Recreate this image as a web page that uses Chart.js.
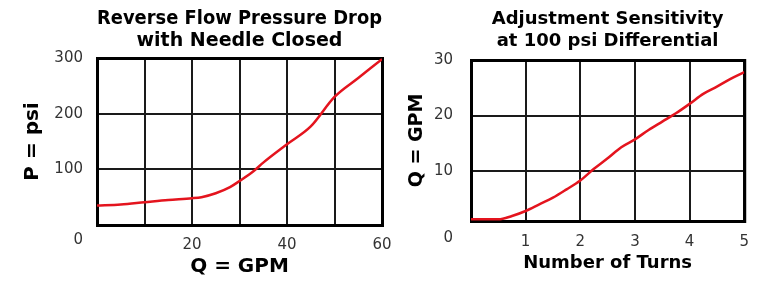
<!DOCTYPE html>
<html><head><meta charset="utf-8">
<script src="https://cdn.jsdelivr.net/npm/chart.js@4.4.0/dist/chart.umd.min.js"></script>
<style>
html,body{margin:0;padding:0;background:#fff;width:761px;height:287px;overflow:hidden;}
canvas{position:absolute;top:0;}
#c1{left:0;} #c2{left:400px;}
</style></head><body>
<canvas id="c1" width="420" height="287"></canvas>
<canvas id="c2" width="361" height="287"></canvas>
<script>
// ---- data ----
const pressureFlowGpm = [0, 5, 10, 15, 20, 22, 25, 28, 30, 33, 35, 40, 45, 50, 55, 60];
const pressurePsi     = [35, 37, 41, 45, 48, 50, 57, 68, 79, 97, 112, 145, 177, 230, 264, 298];
const turnsCount      = [0, 0.25, 0.5, 0.75, 1, 1.25, 1.5, 1.75, 2, 2.25, 2.5, 2.75, 3, 3.25, 3.5, 3.75, 4, 4.25, 4.5, 4.75, 5];
const sensitivityGpm  = [1.3, 1.3, 1.3, 1.9, 2.8, 4.0, 5.2, 6.7, 8.3, 10.4, 12.3, 14.3, 15.7, 17.4, 18.9, 20.4, 22.1, 23.9, 25.2, 26.6, 27.8];
// ---- tick labels ----
const pressureXTickLabels = [20, 40, 60];
const pressureYTickLabels = [100, 200, 300];
const turnsXTickLabels = [1, 2, 3, 4, 5];
const sensitivityYTickLabels = [10, 20, 30];
const originLabel = '0';

Chart.defaults.font.family = '"DejaVu Sans", sans-serif';

const framePlugin = {
  id: 'frame',
  beforeDatasetsDraw(chart, args, opts) {
    const {ctx, chartArea: a} = chart;
    ctx.save();
    ctx.strokeStyle = '#000';
    ctx.lineWidth = opts.width;
    ctx.strokeRect(a.left + 0.5, a.top + 0.5, a.right - a.left, a.bottom - a.top);
    ctx.restore();
  },
  afterDraw(chart, args, opts) {
    const {ctx, chartArea: a} = chart;
    ctx.save();
    ctx.font = '15px "DejaVu Sans"';
    ctx.fillStyle = '#333';
    ctx.textAlign = 'right';
    ctx.textBaseline = 'middle';
    ctx.fillText(opts.originLabel, a.left + opts.originDx, a.bottom + opts.originDy);
    ctx.restore();
  }
};

const gridOpts = {color: '#1a1a1a', lineWidth: 2, drawTicks: false};
const tickFont = {size: 15};
const redLine = {borderColor: '#e4141e', borderWidth: 2.5, pointRadius: 0, cubicInterpolationMode: 'monotone', fill: false};

new Chart(document.getElementById('c1'), {
  type: 'line',
  data: {datasets: [Object.assign({data: pressureFlowGpm.map((x, i) => ({x, y: pressurePsi[i]}))}, redLine)]},
  options: {
    responsive: false, animation: false, devicePixelRatio: 1,
    layout: {padding: {left: 0, right: 38, top: 0, bottom: 0}},
    plugins: {
      legend: {display: false}, tooltip: {enabled: false},
      title: {display: true, text: ['Reverse Flow Pressure Drop', 'with Needle Closed'], color: '#000',
        font: {size: 19, weight: 'bold', lineHeight: 1.15}, padding: {top: 8.6, bottom: 5.7}, fullSize: false},
      frame: {width: 3, originLabel: originLabel, originDx: -14, originDy: 15}
    },
    scales: {
      x: {type: 'linear', min: 0, max: 60, border: {display: false}, grid: gridOpts,
        ticks: {stepSize: 10, padding: 11, autoSkip: false, maxRotation: 0, color: '#333', font: tickFont,
          callback: v => pressureXTickLabels.includes(v) ? String(v) : ''},
        title: {display: true, text: 'Q = GPM', color: '#000', font: {size: 20, weight: 'bold', lineHeight: 1.2}, padding: {top: 0, bottom: 8.6}},
        afterFit: s => { s.height = 62; }},
      y: {type: 'linear', min: 0, max: 300, border: {display: false}, grid: gridOpts,
        afterBuildTicks: s => { s.ticks = [0].concat(pressureYTickLabels).map(v => ({value: v})); },
        ticks: {padding: 14, color: '#333', font: tickFont,
          callback: v => pressureYTickLabels.includes(v) ? String(v) : ''},
        title: {display: true, text: 'P = psi', color: '#000', font: {size: 20, weight: 'bold', lineHeight: 1.2}, padding: {top: 20.6, bottom: 0}},
        afterFit: s => { s.width = 97; }}
    }
  },
  plugins: [framePlugin]
});

new Chart(document.getElementById('c2'), {
  type: 'line',
  data: {datasets: [Object.assign({data: turnsCount.map((x, i) => ({x, y: sensitivityGpm[i]}))}, redLine)]},
  options: {
    responsive: false, animation: false, devicePixelRatio: 1,
    layout: {padding: {left: 0, right: 14, top: 0, bottom: 0}},
    plugins: {
      legend: {display: false}, tooltip: {enabled: false},
      title: {display: true, text: ['Adjustment Sensitivity', 'at 100 psi Differential'], color: '#000',
        font: {size: 18, weight: 'bold', lineHeight: 1.2}, padding: {top: 8.8, bottom: 8}, fullSize: false},
      frame: {width: 3, originLabel: originLabel, originDx: -18, originDy: 17}
    },
    scales: {
      x: {type: 'linear', min: 0, max: 5, border: {display: false}, grid: gridOpts,
        ticks: {stepSize: 1, padding: 12, autoSkip: false, maxRotation: 0, color: '#333', font: tickFont,
          callback: v => turnsXTickLabels.includes(v) ? String(v) : ''},
        title: {display: true, text: 'Number of Turns', color: '#000', font: {size: 18, weight: 'bold', lineHeight: 1.2}, padding: {top: 0, bottom: 13.2}},
        afterFit: s => { s.height = 66; }},
      y: {type: 'linear', min: 1, max: 30, border: {display: false}, grid: gridOpts,
        afterBuildTicks: s => { s.ticks = [1].concat(sensitivityYTickLabels).map(v => ({value: v})); },
        ticks: {padding: 18, color: '#333', font: tickFont,
          callback: v => sensitivityYTickLabels.includes(v) ? String(v) : ''},
        title: {display: true, text: 'Q = GPM', color: '#000', font: {size: 19, weight: 'bold', lineHeight: 1.2}, padding: {top: 5.6, bottom: 0}},
        afterFit: s => { s.width = 71; }}
    }
  },
  plugins: [framePlugin]
});
</script>
</body></html>
